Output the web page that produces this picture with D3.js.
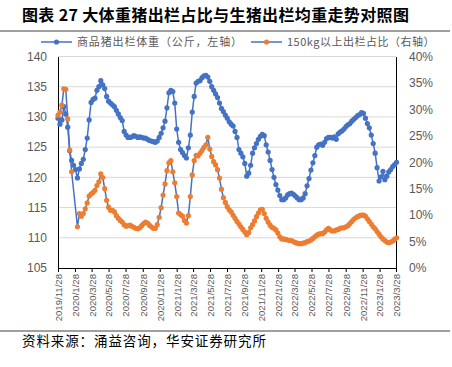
<!DOCTYPE html>
<html lang="zh">
<head>
  <meta charset="UTF-8">
  <title>大体重猪出栏占比与生猪出栏均重走势对照图</title>
  <script src="https://d3js.org/d3.v7.min.js"></script>
  <style>
    body { margin: 0; padding: 0; background: #fff; }
    svg { display: block; }
    .cjk { font-family: 'Noto Sans CJK SC', sans-serif; }
    .num { font-family: 'Liberation Sans', Arial, sans-serif; fill: #595959; }
  </style>
</head>
<body>
  <div id="chart"></div>

  <script>
    // weekly series, first week 2019/11/28
    const firstWeek = '2019-11-28';

    // 商品猪出栏体重（公斤）
    const weight = [
      129.8, 128.8, 129.5, 131.7, 130.5, 128.3, 124.4, 122.8, 122.0, 121.3,
      119.9, 121.4, 122.3, 123.0, 124.6, 126.5, 129.5, 132.4, 132.9, 133.1,
      134.4, 135.0, 136.0, 135.3, 134.7, 133.4, 132.6, 132.3, 132.0, 131.7,
      131.1, 130.5, 129.9, 129.4, 127.6, 127.0, 126.6, 126.6, 126.7, 126.9,
      126.8, 126.6, 126.7, 126.6, 126.5, 126.5, 126.3, 126.1, 126.0, 125.9,
      125.8, 126.0, 126.6, 127.3, 128.2, 129.3, 131.5, 134.0, 134.4, 134.2,
      132.3, 128.0, 125.8, 124.6, 124.1, 123.6, 123.2, 124.9, 127.0, 130.8,
      133.4, 135.6, 135.9, 136.0, 136.5, 136.8, 136.9, 136.6, 135.9, 135.0,
      134.4, 133.8, 133.2, 132.3, 131.4, 130.9, 130.3, 129.8, 129.2, 128.8,
      128.5, 127.6, 126.6, 124.6, 124.0, 123.4, 122.3, 120.2, 120.7, 122.0,
      124.0, 124.9, 125.6, 126.3, 126.8, 127.1, 126.9, 125.4, 124.2, 122.8,
      121.3, 120.0, 118.8, 117.9, 117.0, 116.3, 116.3, 116.6, 117.1, 117.3,
      117.4, 117.2, 116.9, 116.6, 116.3, 116.3, 116.6, 117.3, 118.6, 119.8,
      121.2, 122.4, 123.6, 125.0, 125.4, 125.5, 125.3, 125.8, 126.4, 126.6,
      126.6, 126.5, 126.7, 126.3, 127.2, 127.5, 127.7, 128.0, 128.4, 128.7,
      128.9, 129.3, 129.6, 129.9, 130.2, 130.4, 130.7, 130.6, 129.8, 128.9,
      128.2, 127.0, 125.6, 124.0, 121.6, 119.4, 120.1, 121.0, 119.6, 120.2,
      120.9, 121.3, 121.8, 122.1, 122.5
    ];

    // 150kg以上出栏占比（%），null = 缺失周
    const share150 = [
      28.9, 29.5, 30.8, 33.9, 33.8, 28.2, 22.3, 18.2, null, null,
      7.8, 10.3, 9.8, 10.3, 11.2, 12.3, 13.6, 14.0, 14.3, 14.7,
      15.6, 16.3, 17.8, 17.1, 15.0, 12.8, 11.5, 10.9, 10.9, 10.6,
      9.9, 9.4, 9.0, 8.7, 8.2, 7.9, 8.0, 8.1, 7.9, 7.7,
      7.5, 7.4, 7.6, 8.0, 8.4, 8.7, 8.5, 8.1, 7.8, 7.5,
      7.5, 8.2, 9.6, 11.4, 13.8, 15.9, 18.4, 19.9, 20.3, 18.2,
      16.1, 13.5, 10.4, 10.1, 9.8, 9.0, 8.5, 9.9, 13.5, 17.6,
      20.3, 21.3, 21.2, 21.7, 22.2, 22.8, 23.3, 24.7, 22.5, 21.1,
      20.1, 19.5, 18.6, 17.0, 14.9, 13.3, 12.4, 11.6, 11.0, 10.6,
      10.0, 9.4, 8.8, 8.3, 7.8, 7.3, 6.8, 6.3, 6.7, 7.6,
      8.2, 8.9, 9.7, 10.4, 11.0, 11.1, 10.3, 9.4, 8.7, 8.1,
      7.7, 7.5, 7.2, 6.6, 5.9, 5.5, 5.5, 5.4, 5.3, 5.2,
      5.2, 5.0, 4.8, 4.7, 4.6, 4.6, 4.7, 4.8, 5.0, 5.1,
      5.3, 5.6, 5.9, 6.2, 6.4, 6.5, 6.5, 6.8, 7.2, 7.5,
      7.2, 7.0, 7.0, 7.2, 7.3, 7.5, 7.6, 7.6, 7.8, 8.0,
      8.4, 8.8, 9.2, 9.5, 9.7, 9.9, 10.0, 10.0, 9.8, 9.3,
      8.8, 8.3, 7.8, 7.4, 6.9, 6.4, 5.9, 5.5, 5.2, 4.9,
      4.8, 4.9, 5.1, 5.4, 5.7
    ];

    const xTickLabels = [
      '2019/11/28', '2020/1/28', '2020/3/28', '2020/5/28', '2020/7/28',
      '2020/9/28', '2020/11/28', '2021/1/28', '2021/3/28', '2021/5/28',
      '2021/7/28', '2021/9/28', '2021/11/28', '2022/1/28', '2022/3/28',
      '2022/5/28', '2022/7/28', '2022/9/28', '2022/11/28', '2023/1/28',
      '2023/3/28'
    ];
    const leftTicks = [105, 110, 115, 120, 125, 130, 135, 140];
    const rightTicks = [0, 5, 10, 15, 20, 25, 30, 35, 40];

    const titleText = '图表 27 大体重猪出栏占比与生猪出栏均重走势对照图';
    const legendNames = ['商品猪出栏体重（公斤，左轴）', '150kg以上出栏占比（右轴）'];
    const sourceText = '资料来源：涌益咨询，华安证券研究所';

    const width = 452;
    const height = 367;
    const margin = { top: 56.5, right: 56, bottom: 99, left: 58 };
    const blue = '#4472C4';
    const orange = '#ED7D31';

    const parse = d3.timeParse('%Y/%m/%d');
    const start = d3.timeParse('%Y-%m-%d')(firstWeek);
    const weeks = weight.map((_, i) => d3.timeDay.offset(start, 7 * i));
    const tickDates = xTickLabels.map(parse);

    const svg = d3.select('#chart')
      .append('svg')
      .attr('width', width)
      .attr('height', height);

    const x = d3.scaleTime()
      .domain([tickDates[0], tickDates[tickDates.length - 1]])
      .range([margin.left, width - margin.right]);

    const yL = d3.scaleLinear()
      .domain([105, 140])
      .range([height - margin.bottom, margin.top]);

    const yR = d3.scaleLinear()
      .domain([0, 40])
      .range([height - margin.bottom, margin.top]);

    // title and rules
    svg.append('text')
      .attr('class', 'cjk')
      .attr('x', 22)
      .attr('y', 21)
      .attr('font-size', 16)
      .attr('font-weight', 'bold')
      .attr('letter-spacing', 0.35)
      .attr('fill', '#000')
      .attr('xml:space', 'preserve')
      .text(titleText);

    svg.append('line')
      .attr('x1', 0).attr('x2', 450)
      .attr('y1', 31).attr('y2', 31)
      .attr('stroke', '#404040').attr('stroke-width', 1);

    svg.append('line')
      .attr('x1', 0).attr('x2', 450)
      .attr('y1', 331).attr('y2', 331)
      .attr('stroke', '#404040').attr('stroke-width', 1);

    svg.append('text')
      .attr('class', 'cjk')
      .attr('x', 22)
      .attr('y', 346)
      .attr('font-size', 13.5)
      .attr('letter-spacing', 0.9)
      .attr('fill', '#000')
      .text(sourceText);

    // gridlines
    svg.append('g')
      .selectAll('line')
      .data(leftTicks.slice(1))
      .join('line')
      .attr('x1', margin.left)
      .attr('x2', width - margin.right)
      .attr('y1', d => yL(d))
      .attr('y2', d => yL(d))
      .attr('stroke', '#D9D9D9')
      .attr('stroke-width', 1);

    // axes
    const leftAxis = svg.append('g')
      .attr('transform', `translate(${margin.left},0)`)
      .call(d3.axisLeft(yL).tickValues(leftTicks).tickSize(0).tickPadding(11));
    leftAxis.select('.domain').attr('stroke', '#000');
    leftAxis.selectAll('text').attr('class', 'num').attr('font-size', 12);

    const rightAxis = svg.append('g')
      .attr('transform', `translate(${width - margin.right},0)`)
      .call(d3.axisRight(yR).tickValues(rightTicks).tickSize(0).tickPadding(13)
        .tickFormat(d => d + '%'));
    rightAxis.select('.domain').attr('stroke', '#000');
    rightAxis.selectAll('text').attr('class', 'num').attr('font-size', 12);

    const bottomAxis = svg.append('g')
      .attr('transform', `translate(0,${height - margin.bottom})`)
      .call(d3.axisBottom(x).tickValues(tickDates).tickSize(4)
        .tickFormat((d, i) => xTickLabels[i]));
    bottomAxis.select('.domain').attr('stroke', '#000');
    bottomAxis.selectAll('.tick line').attr('stroke', '#000');
    bottomAxis.selectAll('text')
      .attr('class', 'num')
      .attr('font-size', 9.6)
      .attr('text-anchor', 'end')
      .attr('transform', 'rotate(-90)')
      .attr('x', -6)
      .attr('y', 0)
      .attr('dy', '0.35em');

    // series
    const weightData = weeks.map((d, i) => ({ date: d, v: weight[i] }));
    const shareData = weeks.map((d, i) => ({ date: d, v: share150[i] }))
      .filter(d => d.v != null);

    const lineL = d3.line().x(d => x(d.date)).y(d => yL(d.v));
    const lineR = d3.line().x(d => x(d.date)).y(d => yR(d.v));

    svg.append('path')
      .datum(weightData)
      .attr('fill', 'none')
      .attr('stroke', blue)
      .attr('stroke-width', 1.5)
      .attr('d', lineL);

    svg.append('g')
      .attr('fill', blue)
      .selectAll('circle')
      .data(weightData)
      .join('circle')
      .attr('cx', d => x(d.date))
      .attr('cy', d => yL(d.v))
      .attr('r', 2.6);

    svg.append('path')
      .datum(shareData)
      .attr('fill', 'none')
      .attr('stroke', blue)
      .attr('stroke-width', 1.5)
      .attr('d', lineR);

    svg.append('g')
      .attr('fill', orange)
      .selectAll('circle')
      .data(shareData)
      .join('circle')
      .attr('cx', d => x(d.date))
      .attr('cy', d => yR(d.v))
      .attr('r', 2.6);

    // legend
    const legendItems = [
      { name: legendNames[0], x: 41, marker: blue, spacing: 0.85 },
      { name: legendNames[1], x: 251, marker: orange, spacing: 0.5 }
    ];
    const lg = svg.append('g')
      .selectAll('g')
      .data(legendItems)
      .join('g')
      .attr('transform', d => `translate(${d.x},42)`);
    lg.append('line')
      .attr('x1', 0).attr('x2', 31)
      .attr('stroke', blue).attr('stroke-width', 1.5);
    lg.append('circle')
      .attr('cx', 15.5).attr('r', 2.6)
      .attr('fill', d => d.marker);
    lg.append('text')
      .attr('class', 'cjk')
      .attr('x', 36)
      .attr('dy', '0.35em')
      .attr('font-size', 11)
      .attr('letter-spacing', d => d.spacing)
      .attr('fill', '#595959')
      .text(d => d.name);
  </script>
</body>
</html>
